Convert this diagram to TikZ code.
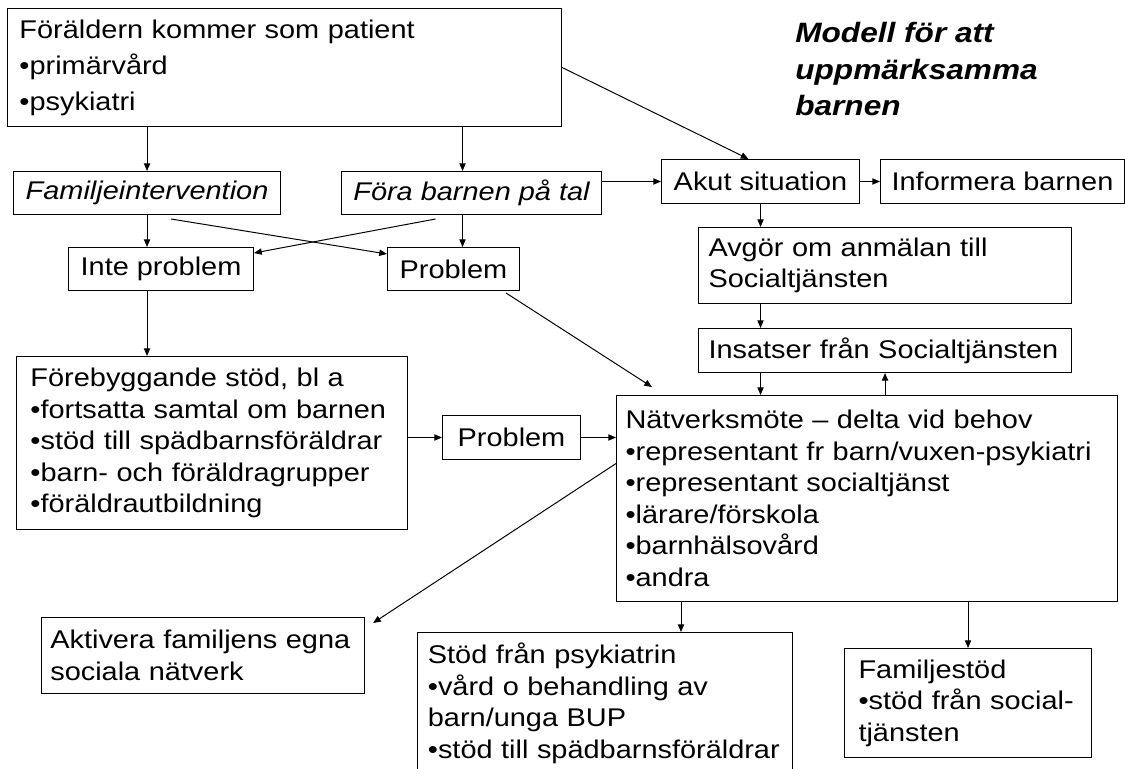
\documentclass[tikz,border=0pt]{standalone}
\usepackage{fontspec}
\setmainfont{Liberation Sans}[FakeStretch=1.13]
\usetikzlibrary{positioning,arrows.meta}
\newcommand{\textstorlek}{\fontsize{18.2}{22.4}\selectfont}

\begin{document}
\begin{tikzpicture}[x=0.025cm, y=-0.025cm, font=\textstorlek,
  box/.style={draw, line width=0.7pt, anchor=north west, inner xsep=0.25cm, inner ysep=0pt},
  lista/.style={box, align=left},
  kort/.style={box, align=center},
  arrow/.style={-{Triangle[length=5.5pt,width=4.5pt]}, line width=0.7pt}] %enheten är en bildpunkt, y nedåt
\useasboundingbox (0,0) rectangle (1125,769);

%rubrik
\node[anchor=north west, align=left, inner sep=0pt, font=\fontsize{19.9}{26}\selectfont\bfseries\itshape] (rubrik) at (795,22) {Modell för att\\uppmärksamma\\barnen};

%första nivån
\node[lista, inner xsep=0.3cm, text width=13.25cm, minimum height=2.95cm, font=\fontsize{18.2}{25.6}\selectfont] (foraldern) at (7,8) {Föräldern kommer som patient\\•primärvård\\•psykiatri};

%andra nivån
\node[kort, minimum width=6.675cm, minimum height=1.075cm, font=\textstorlek\itshape] (fam) at (13,171) {Familjeintervention};
\node[kort, minimum width=6.5cm, minimum height=1.075cm, font=\textstorlek\itshape] (fora) at (341,171) {Föra barnen på tal};
\node[kort, minimum width=4.95cm, minimum height=1.1cm] (akut) at (661,159) {Akut situation};
\node[kort, minimum width=6.1cm, minimum height=1.1cm] (informera) at (880,159) {Informera barnen};

%tredje nivån
\node[kort, minimum width=4.625cm, minimum height=1.075cm] (inte) at (68,247) {Inte problem};
\node[kort, minimum width=3.3cm, minimum height=1.075cm] (problem) at (387,247) {Problem};
\node[lista, text width=8.825cm, minimum height=1.9cm] (avgor) at (698,227) {Avgör om anmälan till\\Socialtjänsten};
\node[lista, text width=8.825cm, minimum height=1.1cm] (insatser) at (698,328) {Insatser från Socialtjänsten};

%stöd och nätverksmöte
\node[lista, inner xsep=0.35cm, text width=9.075cm, minimum height=4.325cm] (foreb) at (16,356) {Förebyggande stöd, bl a\\•fortsatta samtal om barnen\\•stöd till spädbarnsföräldrar\\•barn- och föräldragrupper\\•föräldrautbildning};
\node[kort, minimum width=3.45cm, minimum height=1.1cm] (problemtva) at (442,415) {Problem};
\node[lista, inner xsep=0.225cm, text width=12.075cm, minimum height=5.15cm] (natverk) at (616,395) {Nätverksmöte – delta vid behov\\•representant fr barn/vuxen-psykiatri\\•representant socialtjänst\\•lärare/förskola\\•barnhälsovård\\•andra};

%nedersta nivån
\node[lista, inner xsep=0.22cm, text width=7.635cm, minimum height=1.9cm] (aktivera) at (41,617) {Aktivera familjens egna\\sociala nätverk};
\node[lista, inner xsep=0.26cm, text width=8.855cm, minimum height=3.55cm] (stodpsyk) at (417,632) {Stöd från psykiatrin\\•vård o behandling av\\barn/unga BUP\\•stöd till spädbarnsföräldrar};
\node[lista, inner xsep=0.35cm, text width=5.475cm, minimum height=2.725cm] (familjestod) at (844,648) {Familjestöd\\•stöd från social-\\tjänsten};

%pilar från föräldern
\draw[arrow] (fam.north |- foraldern.south) -- (fam.north);
\draw[arrow] ([xshift=-0.225cm]fora.north |- foraldern.south) -- ([xshift=-0.225cm]fora.north);
\draw[arrow] (foraldern.east) -- ([xshift=-0.3cm]akut.north);

%pilar till problem / inte problem
\draw[arrow] (fam.south) -- (fam.south |- inte.north);
\draw[arrow] ([xshift=-0.225cm]fora.south) -- ([xshift=-0.225cm]fora.south |- problem.north);
\draw[arrow] ([shift={(24,4)}]fam.south) -- ([shift={(0,7)}]problem.north west);
\draw[arrow] ([shift={(-36,4)}]fora.south) -- ([shift={(0,6)}]inte.north east);

%akut situation och socialtjänsten
\draw[arrow] (fora.east |- akut.west) -- (akut.west);
\draw[arrow] (akut.east) -- (informera.west);
\draw[arrow] (akut.south) -- (akut.south |- avgor.north);
\draw[arrow] (akut.south |- avgor.south) -- (akut.south |- insatser.north);
\draw[arrow] (akut.south |- insatser.south) -- (akut.south |- natverk.north);
\draw[arrow] (insatser.south |- natverk.north) -- (insatser.south);

%pilar till nätverksmötet
\draw[arrow] ([shift={(-14,2)}]problem.south east) -- ([shift={(36,-8)}]natverk.north west);
\draw[arrow] (fam.south |- inte.south) -- (fam.south |- foreb.north);
\draw[arrow] (foreb.east |- problemtva.west) -- (problemtva.west);
\draw[arrow] (problemtva.east) -- (problemtva.east -| natverk.west);

%pilar från nätverksmötet
\draw[arrow] ([shift={(0,-35)}]natverk.west) -- ([shift={(8,6)}]aktivera.north east);
\draw[arrow] ([shift={(65,0)}]natverk.south west) -- ([shift={(65,0)}]natverk.south west |- stodpsyk.north);
\draw[arrow] (familjestod.north |- natverk.south) -- (familjestod.north);

\end{tikzpicture}
\end{document}
